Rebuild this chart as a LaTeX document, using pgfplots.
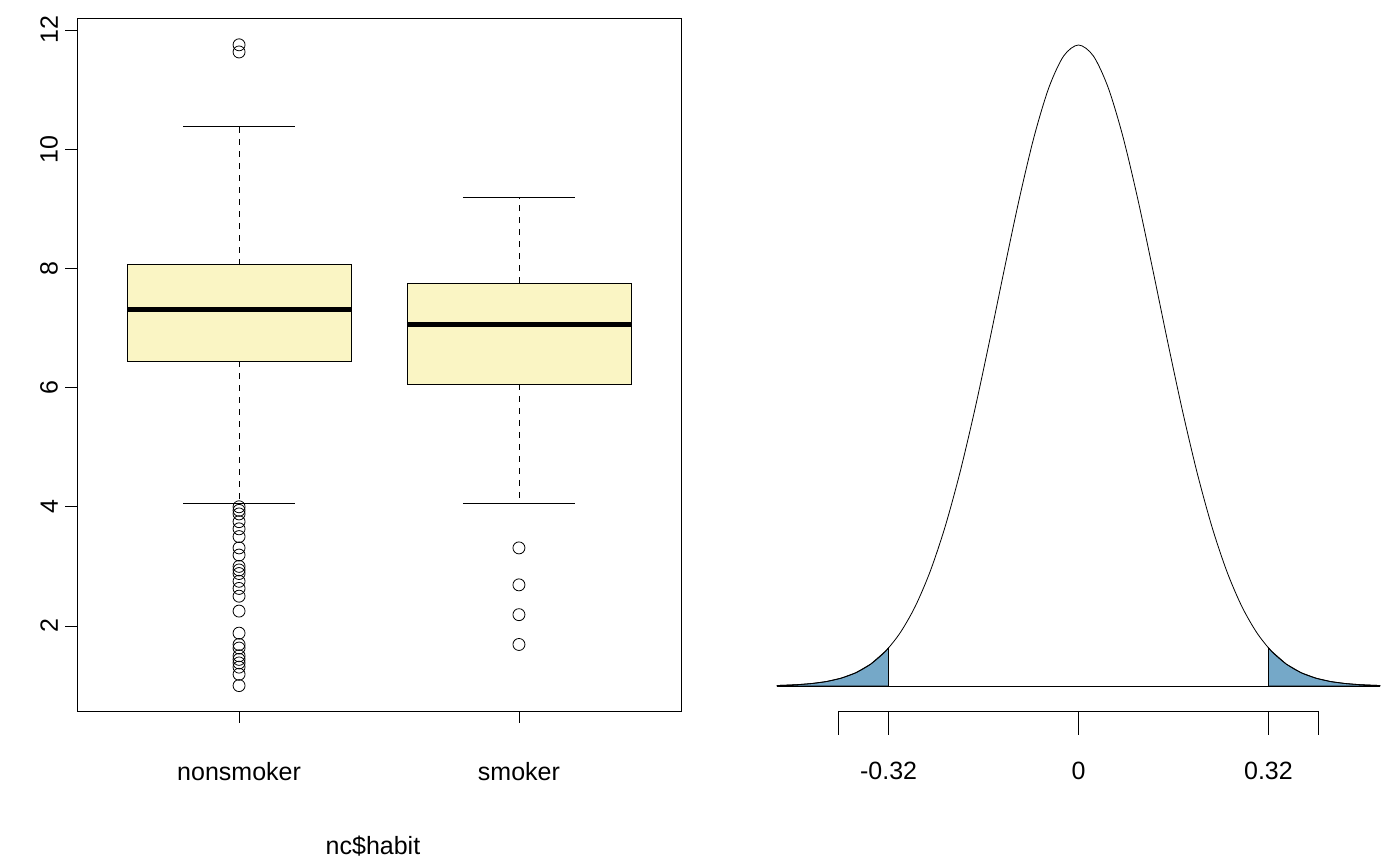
\documentclass[border=0pt]{standalone}
\usepackage{pgfplots}
\pgfplotsset{compat=1.18}
\usepackage{fontspec}
\setmainfont{Liberation Sans}
\definecolor{boxfill}{HTML}{FAF5C4}
\definecolor{tailfill}{HTML}{75A8C8}
\begin{document}
\begin{tikzpicture}[x=1pt,y=1pt]
\path (0,0) rectangle (700,432.5);
\begin{axis}[at={(38.5pt,77pt)},anchor=south west,scale only axis,
  width=302pt,height=346.5pt,xmin=0.421,xmax=2.579,ymin=0.574,ymax=12.2,
  xtick={1,2},xticklabels={nonsmoker,smoker},ytick={2,4,6,8,10,12},
  tick align=outside,xtick pos=bottom,ytick pos=left,
  major tick length=6pt,tick style={black,thin},
  yticklabel style={rotate=90,anchor=south},
  ticklabel style={font=\fontsize{12.5}{14}\selectfont},
  xticklabel style={yshift=-16pt},
  /pgf/number format/assume math mode=true,
  clip=false,axis line style={thin}]
% nonsmoker
\addplot[fill=boxfill,draw=black] coordinates {(0.6,6.44)(1.4,6.44)(1.4,8.06)(0.6,8.06)} --cycle;
\addplot[black,dashed] coordinates {(1,8.06)(1,10.38)};
\addplot[black,dashed] coordinates {(1,6.44)(1,4.06)};
\addplot[black] coordinates {(0.8,10.38)(1.2,10.38)};
\addplot[black] coordinates {(0.8,4.06)(1.2,4.06)};
\addplot[black,line width=2.2pt] coordinates {(0.6,7.31)(1.4,7.31)};
\addplot[only marks,mark=o,mark size=3pt,black] coordinates {
(1,11.75)(1,11.63)(1,4.0)(1,3.94)(1,3.88)(1,3.75)(1,3.63)(1,3.5)(1,3.31)(1,3.19)(1,3.0)(1,2.94)(1,2.88)(1,2.75)(1,2.63)(1,2.5)(1,2.25)(1,1.88)(1,1.69)(1,1.63)(1,1.5)(1,1.44)(1,1.38)(1,1.31)(1,1.19)(1,1.0)};
% smoker
\addplot[fill=boxfill,draw=black] coordinates {(1.6,6.06)(2.4,6.06)(2.4,7.75)(1.6,7.75)} --cycle;
\addplot[black,dashed] coordinates {(2,7.75)(2,9.19)};
\addplot[black,dashed] coordinates {(2,6.06)(2,4.06)};
\addplot[black] coordinates {(1.8,9.19)(2.2,9.19)};
\addplot[black] coordinates {(1.8,4.06)(2.2,4.06)};
\addplot[black,line width=2.2pt] coordinates {(1.6,7.06)(2.4,7.06)};
\addplot[only marks,mark=o,mark size=3pt,black] coordinates {(2,3.31)(2,2.69)(2,2.19)(2,1.69)};
\node[font=\fontsize{12.5}{14}\selectfont] at (axis description cs:0.49,-0.195) {nc\$habit};
\end{axis}
\begin{axis}[at={(388.5pt,89.5pt)},anchor=south west,scale only axis,
  width=301.5pt,height=320.5pt,xmin=-0.508,xmax=0.508,ymin=0,ymax=1,
  axis lines=none,clip=false]
\addplot[fill=tailfill,draw=black] coordinates {(-0.508,0)(-0.508,0.0008)(-0.5,0.0010)(-0.475,0.0020)(-0.45,0.0038)(-0.425,0.0069)(-0.4,0.0122)(-0.375,0.0207)(-0.35,0.0342)(-0.325,0.0544)(-0.32,0.0595)(-0.32,0)} --cycle;
\addplot[fill=tailfill,draw=black] coordinates {(0.508,0)(0.508,0.0008)(0.5,0.0010)(0.475,0.0020)(0.45,0.0038)(0.425,0.0069)(0.4,0.0122)(0.375,0.0207)(0.35,0.0342)(0.325,0.0544)(0.32,0.0595)(0.32,0)} --cycle;
\addplot[black,smooth,thin] coordinates {
(-0.508,0.0008)(-0.5,0.0010)(-0.475,0.0020)(-0.45,0.0038)(-0.425,0.0069)(-0.4,0.0122)(-0.375,0.0207)(-0.35,0.0342)(-0.325,0.0544)(-0.3,0.0837)(-0.275,0.1244)(-0.25,0.1786)(-0.225,0.2478)(-0.2,0.3321)(-0.175,0.4300)(-0.15,0.5379)(-0.125,0.6501)(-0.1,0.7591)(-0.075,0.8564)(-0.05,0.9334)(-0.025,0.9829)(0,1)
(0.025,0.9829)(0.05,0.9334)(0.075,0.8564)(0.1,0.7591)(0.125,0.6501)(0.15,0.5379)(0.175,0.4300)(0.2,0.3321)(0.225,0.2478)(0.25,0.1786)(0.275,0.1244)(0.3,0.0837)(0.325,0.0544)(0.35,0.0342)(0.375,0.0207)(0.4,0.0122)(0.425,0.0069)(0.45,0.0038)(0.475,0.0020)(0.5,0.0010)(0.508,0.0008)};
\addplot[black,thin] coordinates {(-0.508,0)(0.508,0)};
\addplot[black,thin] coordinates {(-0.404,-0.039)(0.404,-0.039)};
\addplot[black,thin] coordinates {(-0.404,-0.039)(-0.404,-0.0764)};
\addplot[black,thin] coordinates {(-0.32,-0.039)(-0.32,-0.0764)};
\addplot[black,thin] coordinates {(0,-0.039)(0,-0.0764)};
\addplot[black,thin] coordinates {(0.32,-0.039)(0.32,-0.0764)};
\addplot[black,thin] coordinates {(0.404,-0.039)(0.404,-0.0764)};
\node[font=\fontsize{12.5}{14}\selectfont] at (axis cs:-0.32,-0.1326) {-0.32};
\node[font=\fontsize{12.5}{14}\selectfont] at (axis cs:0,-0.1326) {0};
\node[font=\fontsize{12.5}{14}\selectfont] at (axis cs:0.32,-0.1326) {0.32};
\end{axis}
\end{tikzpicture}
\end{document}
